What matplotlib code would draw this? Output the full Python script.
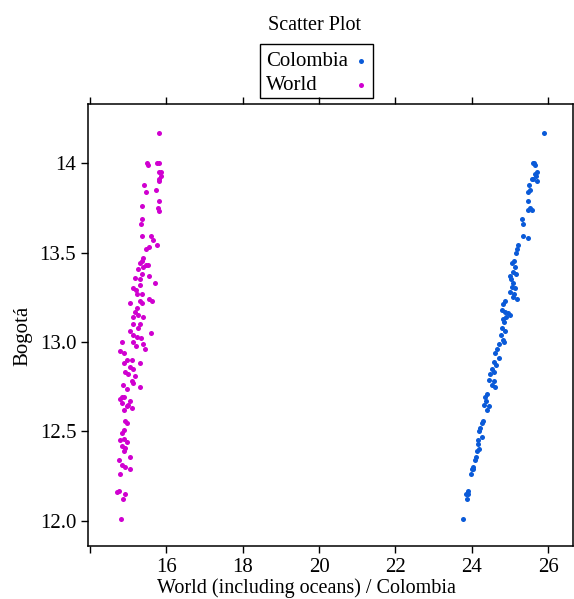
import matplotlib.pyplot as plt
from matplotlib.patches import Rectangle
from matplotlib.lines import Line2D

plt.rcParams['font.family'] = ['Liberation Serif', 'DejaVu Serif']

# World (including oceans) vs Bogotá
world_x = [15.81, 15.49, 15.52, 15.75, 15.82, 15.87, 15.80, 15.86, 15.81, 15.82,
           15.42, 15.47, 15.74, 15.81, 15.78, 15.82, 15.36, 15.36, 15.33, 15.36,
           15.60, 15.65, 15.75, 15.47, 15.56, 15.40, 15.36, 15.32, 15.47, 15.39,
           15.27, 15.51, 15.36, 15.56, 15.19, 15.30, 15.71, 15.14, 15.21, 15.32,
           15.36, 15.23, 15.06, 15.30, 15.36, 15.56, 15.62, 15.23, 15.17, 15.27,
           15.14, 15.40, 15.30, 15.14, 15.25, 15.06, 15.60, 15.13, 15.23, 15.33,
           15.14, 15.21, 15.40, 15.45, 14.84, 14.79, 14.88, 14.97, 14.88, 15.10,
           15.32, 15.04, 15.14, 14.92, 15.01, 15.19, 15.10, 15.13, 15.32, 14.86,
           14.97, 14.79, 14.90, 14.84, 14.97, 15.06, 15.10, 14.88, 15.01, 14.84,
           14.92, 14.97, 14.88, 14.84, 14.90, 14.79, 14.97, 14.84, 14.92, 14.88,
           15.06, 14.75, 14.84, 14.92, 15.06, 14.79, 14.75, 14.71, 14.92, 14.86,
           14.81]
world_y = [14.17, 14.00, 13.99, 14.00, 14.00, 13.95, 13.95, 13.93, 13.91, 13.90,
           13.88, 13.84, 13.85, 13.79, 13.75, 13.73, 13.76, 13.69, 13.66, 13.59,
           13.59, 13.57, 13.54, 13.52, 13.53, 13.47, 13.45, 13.44, 13.43, 13.42,
           13.41, 13.43, 13.38, 13.37, 13.36, 13.35, 13.33, 13.30, 13.29, 13.32,
           13.27, 13.27, 13.22, 13.23, 13.22, 13.24, 13.23, 13.19, 13.17, 13.15,
           13.14, 13.14, 13.10, 13.10, 13.08, 13.06, 13.05, 13.04, 13.03, 13.02,
           13.00, 12.98, 12.99, 12.96, 13.00, 12.95, 12.94, 12.90, 12.88, 12.90,
           12.88, 12.86, 12.85, 12.83, 12.82, 12.81, 12.78, 12.77, 12.75, 12.76,
           12.74, 12.68, 12.69, 12.66, 12.64, 12.67, 12.63, 12.62, 12.65, 12.69,
           12.56, 12.55, 12.51, 12.49, 12.46, 12.45, 12.44, 12.42, 12.41, 12.39,
           12.36, 12.34, 12.31, 12.30, 12.29, 12.26, 12.17, 12.16, 12.15, 12.12,
           12.01]

# Colombia vs Bogotá
colombia_x = [25.89, 25.61, 25.66, 25.63, 25.70, 25.66, 25.68, 25.61, 25.70, 25.57,
              25.51, 25.46, 25.53, 25.46, 25.53, 25.57, 25.48, 25.31, 25.35, 25.33,
              25.48, 25.22, 25.18, 25.16, 25.11, 25.05, 25.13, 25.07, 25.16, 25.00,
              25.02, 25.09, 25.05, 25.13, 25.00, 25.11, 25.07, 25.18, 24.87, 24.83,
              24.78, 24.87, 24.96, 24.90, 25.00, 24.81, 24.85, 24.78, 24.87, 24.76,
              24.81, 24.85, 24.72, 24.65, 24.61, 24.70, 24.57, 24.64, 24.52, 24.57,
              24.48, 24.46, 24.58, 24.52, 24.61, 24.39, 24.35, 24.37, 24.44, 24.32,
              24.39, 24.29, 24.26, 24.22, 24.20, 24.26, 24.17, 24.15, 24.20, 24.13,
              24.11, 24.09, 24.04, 24.00, 24.03, 23.97, 23.89, 23.85, 23.91, 23.87,
              23.78]
colombia_y = [14.17, 14.00, 13.99, 14.00, 13.95, 13.94, 13.93, 13.91, 13.90, 13.91,
              13.88, 13.84, 13.85, 13.79, 13.75, 13.74, 13.74, 13.69, 13.66, 13.59,
              13.58, 13.54, 13.52, 13.50, 13.45, 13.44, 13.42, 13.39, 13.38, 13.37,
              13.35, 13.33, 13.31, 13.30, 13.28, 13.27, 13.25, 13.24, 13.23, 13.21,
              13.18, 13.17, 13.16, 13.14, 13.15, 13.13, 13.11, 13.08, 13.06, 13.04,
              13.01, 13.00, 12.99, 12.96, 12.94, 12.91, 12.89, 12.87, 12.85, 12.83,
              12.82, 12.79, 12.78, 12.76, 12.75, 12.71, 12.69, 12.67, 12.64, 12.65,
              12.62, 12.56, 12.55, 12.52, 12.50, 12.47, 12.45, 12.43, 12.40, 12.39,
              12.36, 12.34, 12.30, 12.29, 12.29, 12.26, 12.17, 12.15, 12.15, 12.12,
              12.01]

x_ticks = [14, 16, 18, 20, 22, 24, 26]
x_labels = ['', '16', '18', '20', '22', '24', '26']
y_ticks = [12.0, 12.5, 13.0, 13.5, 14.0]
y_labels = ['12.0', '12.5', '13.0', '13.5', '14']

blue = '#0a5ad8'
magenta = '#d000d0'

W, H = 574, 599
fig = plt.figure(figsize=(W / 100, H / 100), dpi=100)
ax = fig.add_axes([88 / W, 1 - 546 / H, 485 / W, 442 / H])

ax.scatter(colombia_x, colombia_y, s=13, color=blue, linewidths=0)
ax.scatter(world_x, world_y, s=13, color=magenta, linewidths=0)

ax.set_xlim(13.95, 26.65)
ax.set_ylim(11.86, 14.33)
ax.set_xticks(x_ticks)
ax.set_xticklabels(x_labels)
ax.set_yticks(y_ticks)
ax.set_yticklabels(y_labels)
ax.tick_params(axis='x', top=True, direction='out', length=5, width=1, labelsize=15)
ax.tick_params(axis='y', direction='out', length=5, width=1, labelsize=15)
for sp in ax.spines.values():
    sp.set_linewidth(1.1)

ax.set_xlabel('World (including oceans) / Colombia', fontsize=14.5)
ax.xaxis.set_label_coords((306 - 88) / 485, -0.073)
ax.set_ylabel('Bogotá', fontsize=15)
ax.yaxis.set_label_coords(-0.115, 0.475)

fig.text(315 / W, 1 - 25 / H, 'Scatter Plot', ha='center', va='center', fontsize=14.5)

# legend box drawn by hand: labels left-aligned, markers on the right
fig.patches.append(Rectangle((260 / W, 1 - 98 / H), 113 / W, 54 / H,
                             transform=fig.transFigure, fill=False,
                             edgecolor='black', linewidth=1.0))
for label, col, yc in [('Colombia', blue, 61), ('World', magenta, 85)]:
    fig.text(266 / W, 1 - yc / H, label, ha='left', va='center', fontsize=15)
    fig.add_artist(Line2D([361 / W], [1 - yc / H], marker='o', markersize=3.6,
                          markeredgewidth=0, color=col, transform=fig.transFigure))

fig.savefig('out.png', dpi=100)
